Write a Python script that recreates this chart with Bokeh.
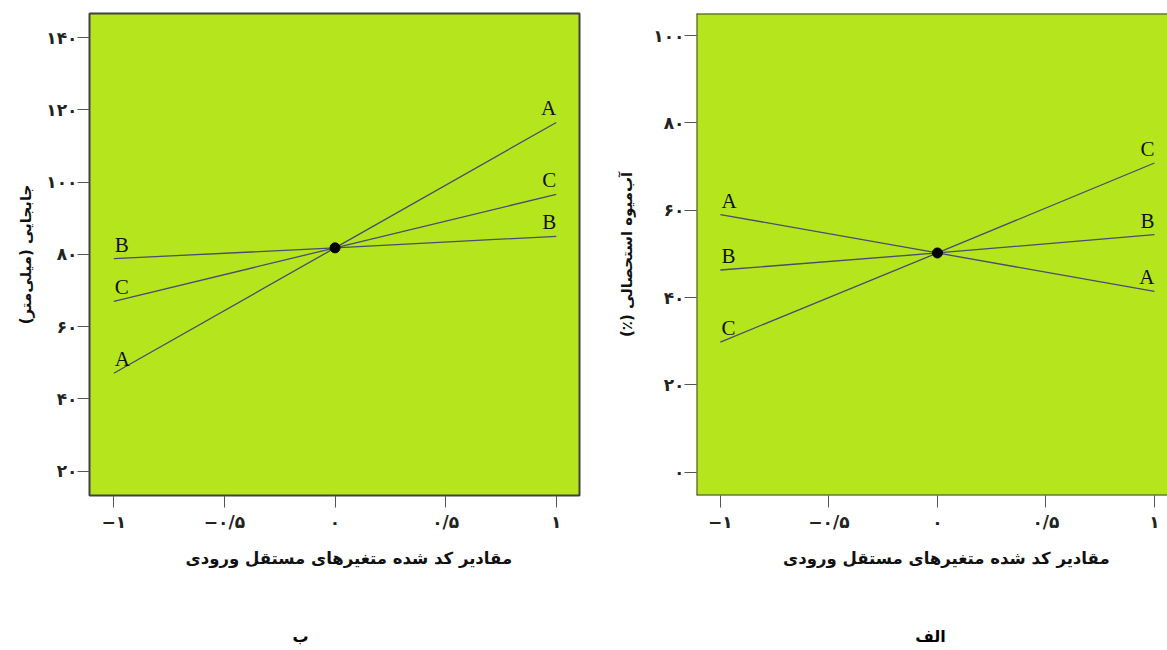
from bokeh.plotting import figure
from bokeh.layouts import row, column
from bokeh.models import FixedTicker, Span, Range1d
from bokeh.core.properties import value
from bokeh.embed import file_html
from bokeh.resources import INLINE

# coded levels of the input variables (-1, centre, +1)
levels = [-1, 0, 1]
factors = ["A", "B", "C"]

# panel "ب": displacement (mm) against each coded factor
disp_A = [47.1, 81.8, 116.5]
disp_B = [78.8, 81.8, 85.0]
disp_C = [67.0, 81.8, 96.6]
disp_center = 81.8

# panel "الف": extracted juice (%) against each coded factor
juice_A = [59.0, 50.2, 41.4]
juice_B = [46.3, 50.2, 54.4]
juice_C = [29.8, 50.2, 70.8]
juice_center = 50.2

x_ticks = [-1, -0.5, 0, 0.5, 1]
x_tick_labels = ["−۱", "−۰/۵", "۰", "۰/۵", "۱"]
disp_ticks = [20, 40, 60, 80, 100, 120, 140]
disp_tick_labels = ["۲۰", "۴۰", "۶۰", "۸۰", "۱۰۰", "۱۲۰", "۱۴۰"]
juice_ticks = [0, 20, 40, 60, 80, 100]
juice_tick_labels = ["۰", "۲۰", "۴۰", "۶۰", "۸۰", "۱۰۰"]

RLM = "\u200f"
NBSP = "\u00a0"
x_title = NBSP * 6 + "مقادیر کد شده متغیرهای مستقل  ورودی"
disp_title = RLM + "جابجایی (میلی‌متر)" + RLM
juice_title = RLM + "آب‌میوه استحصالی (٪)" + RLM
captions = ["ب", "الف"]

FA_FONT = "DejaVu Sans"
LAT_FONT = "Liberation Serif"
FILL = "#b5e61d"
LINE = "#4a4a72"
FRAME = "#404040"


def make_panel(series, center, yticks, ylabels, ytitle, xr, yr, width,
               border_left, border_right, ylab_standoff, outline=True):
    p = figure(width=width, height=600, output_backend="svg",
               toolbar_location=None, x_range=Range1d(*xr), y_range=Range1d(*yr),
               min_border_left=border_left, min_border_right=border_right,
               min_border_top=13, min_border_bottom=105)
    p.background_fill_color = FILL
    p.border_fill_color = "white"
    p.grid.visible = False
    if outline:
        p.outline_line_color = FRAME
        p.outline_line_width = 2
    else:
        p.outline_line_color = None
        for loc, dim in ((yr[1], "width"), (yr[0], "width"), (xr[0], "height")):
            p.add_layout(Span(location=loc, dimension=dim,
                              line_color=FRAME, line_width=2))

    for ax in (p.xaxis[0], p.yaxis[0]):
        ax.axis_line_color = None
        ax.major_tick_in = 0
        ax.major_tick_out = 12
        ax.major_tick_line_color = "#555555"
        ax.minor_tick_line_color = None
        ax.major_label_text_font = FA_FONT
        ax.major_label_text_font_style = "bold"
        ax.major_label_text_font_size = "17px"
        ax.major_label_text_color = "#222222"
        ax.axis_label_text_font = FA_FONT
        ax.axis_label_text_font_style = "bold"
        ax.axis_label_text_color = "#111111"

    p.xaxis.ticker = FixedTicker(ticks=x_ticks)
    p.xaxis.major_label_overrides = dict(zip(x_ticks, x_tick_labels))
    p.xaxis.major_label_standoff = 4
    p.xaxis.axis_label = x_title
    p.xaxis.axis_label_text_font_size = "16.5px"
    p.xaxis.axis_label_standoff = 14

    p.yaxis.ticker = FixedTicker(ticks=yticks)
    p.yaxis.major_label_overrides = dict(zip(yticks, ylabels))
    p.yaxis.major_label_standoff = 0
    p.yaxis.axis_label = ytitle
    p.yaxis.axis_label_text_font_size = "15px"
    p.yaxis.axis_label_standoff = ylab_standoff

    for vals in series:
        p.line(levels, vals, line_color=LINE, line_width=1.3)

    p.text(x=[levels[0]] * 3, y=[s[0] for s in series], text=factors,
           text_align="left", text_baseline="alphabetic", x_offset=1, y_offset=-14,
           text_font=value(LAT_FONT), text_font_size="21px", text_color="#111111")
    p.text(x=[levels[-1]] * 3, y=[s[-1] for s in series], text=factors,
           text_align="right", text_baseline="alphabetic", y_offset=-14,
           text_font=value(LAT_FONT), text_font_size="21px", text_color="#111111")

    p.scatter([0], [center], size=10, color="black")
    return p


def make_caption(text, width, cx):
    # strip below each panel carrying its letter
    c = figure(width=width, height=50, output_backend="svg", toolbar_location=None,
               x_range=Range1d(0, width), y_range=Range1d(0, 50),
               x_axis_location=None, y_axis_location=None,
               min_border=0, min_border_left=0, min_border_right=0,
               min_border_top=0, min_border_bottom=0)
    c.outline_line_color = None
    c.grid.visible = False
    c.background_fill_color = "white"
    c.text(x=[cx], y=[14], text=[text], text_align="center", text_baseline="middle",
           text_font=value(FA_FONT), text_font_style="bold", text_font_size="16px",
           text_color="black")
    return c


left = make_panel([disp_A, disp_B, disp_C], disp_center, disp_ticks,
                  disp_tick_labels, disp_title, (-1.11, 1.105), (13.27, 146.65),
                  600, 89, 21, 8)
right = make_panel([juice_A, juice_B, juice_C], juice_center, juice_ticks,
                   juice_tick_labels, juice_title, (-1.11, 1.06), (-5.34, 105.04),
                   567, 96, 0, 14, outline=False)

layout = column(row(left, right),
                row(make_caption(captions[0], 600, 300),
                    make_caption(captions[1], 567, 330)))
open("out.html", "w").write(file_html(layout, INLINE))
